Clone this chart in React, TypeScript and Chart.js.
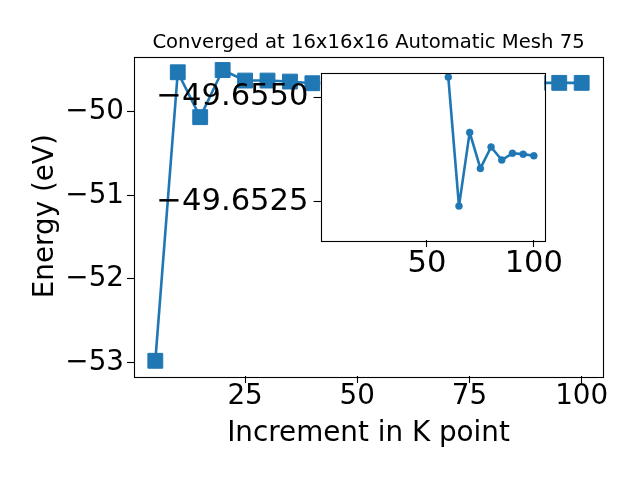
import React, { useEffect, useRef } from 'react';
import { Chart, registerables } from 'chart.js';

Chart.register(...registerables);

// ---- data ----
const K_POINTS = [5, 10, 15, 20, 25, 30, 35, 40, 45, 50, 55, 60, 65, 70, 75, 80, 85, 90, 95, 100];
const ENERGY = [
  -52.98, -49.527, -50.064, -49.5, -49.626, -49.626, -49.638, -49.658, -49.656, -49.655,
  -49.655, -49.6555, -49.6524, -49.6542, -49.6533, -49.6538, -49.6535, -49.6537, -49.6536, -49.6536,
];
const INSET_K = [60, 65, 70, 75, 80, 85, 90, 95, 100];
const INSET_ENERGY = [-49.65548, -49.6524, -49.65416, -49.6533, -49.65381, -49.6535, -49.65366, -49.65364, -49.6536];

const MAIN_X_TICKS = [25, 50, 75, 100];
const MAIN_Y_TICKS = [-53, -52, -51, -50];
const INSET_X_TICKS = [50, 100];
const INSET_Y_TICKS = [-49.655, -49.6525];

const TITLE = 'Converged at 16x16x16 Automatic Mesh 75';
const X_LABEL = 'Increment in K point';
const Y_LABEL = 'Energy (eV)';

const BLUE = '#1f77b4';
const FONT = 'DejaVu Sans';
const minus = (s: string) => s.replace('-', '\u2212');

const framePlugin = (fillWhite: boolean) => ({
  id: 'frame',
  beforeDraw(chart: any) {
    if (!fillWhite) return;
    const a = chart.chartArea;
    const ctx = chart.ctx;
    ctx.save();
    ctx.fillStyle = '#ffffff';
    ctx.fillRect(a.left, a.top, a.right - a.left, a.bottom - a.top);
    ctx.restore();
  },
  afterDraw(chart: any) {
    const a = chart.chartArea;
    const ctx = chart.ctx;
    ctx.save();
    ctx.strokeStyle = '#000000';
    ctx.lineWidth = 1.1;
    ctx.strokeRect(Math.round(a.left) + 0.5, Math.round(a.top) + 0.5, Math.round(a.right - a.left), Math.round(a.bottom - a.top));
    ctx.restore();
  },
});

const titlePlugin = {
  id: 'mplTitle',
  afterDraw(chart: any) {
    const a = chart.chartArea;
    const ctx = chart.ctx;
    ctx.save();
    ctx.font = `19.6px "${FONT}"`;
    ctx.fillStyle = '#000';
    ctx.textAlign = 'center';
    ctx.textBaseline = 'alphabetic';
    ctx.fillText(TITLE, (a.left + a.right) / 2, 48);
    ctx.restore();
  },
};

const tickFont = { family: FONT, size: 27.8, lineHeight: 1.0 };
const insetTickFont = { family: FONT, size: 30.6, lineHeight: 1.0 };
const titleFont = { family: FONT, size: 27.8, lineHeight: 1.2 };

const noPad = (s: any) => {
  s.paddingTop = 0;
  s.paddingBottom = 0;
  s.paddingLeft = 0;
  s.paddingRight = 0;
};

export default function App() {
  const mainRef = useRef<HTMLCanvasElement>(null);
  const insetRef = useRef<HTMLCanvasElement>(null);

  useEffect(() => {
    const main = new Chart(mainRef.current!, {
      type: 'line',
      data: {
        datasets: [
          {
            data: K_POINTS.map((k, i) => ({ x: k, y: ENERGY[i] })),
            borderColor: BLUE,
            backgroundColor: BLUE,
            borderWidth: 2.6,
            borderJoinStyle: 'round',
            borderCapStyle: 'round',
            pointStyle: 'rect',
            pointRadius: 10.5,
            pointBorderWidth: 1,
            pointBorderColor: BLUE,
            pointBackgroundColor: BLUE,
            tension: 0,
            clip: 0,
          },
        ],
      },
      options: {
        animation: false,
        responsive: false,
        devicePixelRatio: 1,
        events: [],
        layout: { padding: { left: 0, top: 56.5, right: 37, bottom: 0 } },
        plugins: { legend: { display: false }, tooltip: { enabled: false }, title: { display: false } },
        scales: {
          x: {
            type: 'linear',
            min: 0.25,
            max: 104.75,
            afterBuildTicks: (s: any) => { s.ticks = MAIN_X_TICKS.map((v) => ({ value: v })); },
            afterFit: (s: any) => { s.height = 104; noPad(s); },
            ticks: { font: tickFont, color: '#000', padding: 0, maxRotation: 0, callback: (v: any) => minus(String(v)) },
            grid: { display: true, drawOnChartArea: false, drawTicks: true, tickLength: 7, color: '#000', tickWidth: 1.1 },
            border: { display: false },
            title: { display: true, text: X_LABEL, font: titleFont, color: '#000', padding: { top: 0, bottom: 30 } },
          },
          y: {
            type: 'linear',
            min: -53.162,
            max: -49.338,
            afterBuildTicks: (s: any) => { s.ticks = MAIN_Y_TICKS.map((v) => ({ value: v })); },
            afterFit: (s: any) => { s.width = 134; noPad(s); },
            ticks: { font: tickFont, color: '#000', padding: 3, callback: (v: any) => minus(String(v)) },
            grid: { display: true, drawOnChartArea: false, drawTicks: true, tickLength: 7, color: '#000', tickWidth: 1.1 },
            border: { display: false },
            title: { display: true, text: Y_LABEL, font: titleFont, color: '#000', padding: { top: 29, bottom: 0 } },
          },
        },
      },
      plugins: [framePlugin(false), titlePlugin],
    } as any);

    const inset = new Chart(insetRef.current!, {
      type: 'line',
      data: {
        datasets: [
          {
            data: INSET_K.map((k, i) => ({ x: k, y: INSET_ENERGY[i] })),
            borderColor: BLUE,
            backgroundColor: BLUE,
            borderWidth: 2.6,
            borderJoinStyle: 'round',
            borderCapStyle: 'round',
            pointStyle: 'circle',
            pointRadius: 3.5,
            pointBorderWidth: 0.5,
            pointBorderColor: BLUE,
            pointBackgroundColor: BLUE,
            tension: 0,
            clip: 0,
          },
        ],
      },
      options: {
        animation: false,
        responsive: false,
        devicePixelRatio: 1,
        events: [],
        layout: { padding: { left: 0, top: 12.5, right: 26, bottom: 0 } },
        plugins: { legend: { display: false }, tooltip: { enabled: false }, title: { display: false } },
        scales: {
          x: {
            type: 'linear',
            min: 0.25,
            max: 104.75,
            afterBuildTicks: (s: any) => { s.ticks = INSET_X_TICKS.map((v) => ({ value: v })); },
            afterFit: (s: any) => { s.height = 70; noPad(s); },
            ticks: { font: insetTickFont, color: '#000', padding: 2, maxRotation: 0, callback: (v: any) => String(v) },
            grid: { display: true, drawOnChartArea: false, drawTicks: true, tickLength: 7, color: '#000', tickWidth: 1.1 },
            border: { display: false },
          },
          y: {
            type: 'linear',
            reverse: true,
            min: -49.65559,
            max: -49.65159,
            afterBuildTicks: (s: any) => { s.ticks = INSET_Y_TICKS.map((v) => ({ value: v })); },
            afterFit: (s: any) => { s.width = 170.5; noPad(s); },
            ticks: { font: insetTickFont, color: '#000', padding: 5, callback: (v: any) => minus(Number(v).toFixed(4)) },
            grid: { display: true, drawOnChartArea: false, drawTicks: true, tickLength: 7, color: '#000', tickWidth: 1.1 },
            border: { display: false },
          },
        },
      },
      plugins: [framePlugin(true)],
    } as any);

    return () => {
      main.destroy();
      inset.destroy();
    };
  }, []);

  return (
    <div style={{ position: 'absolute', left: 0, top: 0, width: 640, height: 480, background: '#fff' }}>
      <canvas ref={mainRef} width={640} height={480} style={{ position: 'absolute', left: 0, top: 0, width: 640, height: 480 }} />
      <canvas ref={insetRef} width={420} height={250} style={{ position: 'absolute', left: 150, top: 60, width: 420, height: 250 }} />
    </div>
  );
}
